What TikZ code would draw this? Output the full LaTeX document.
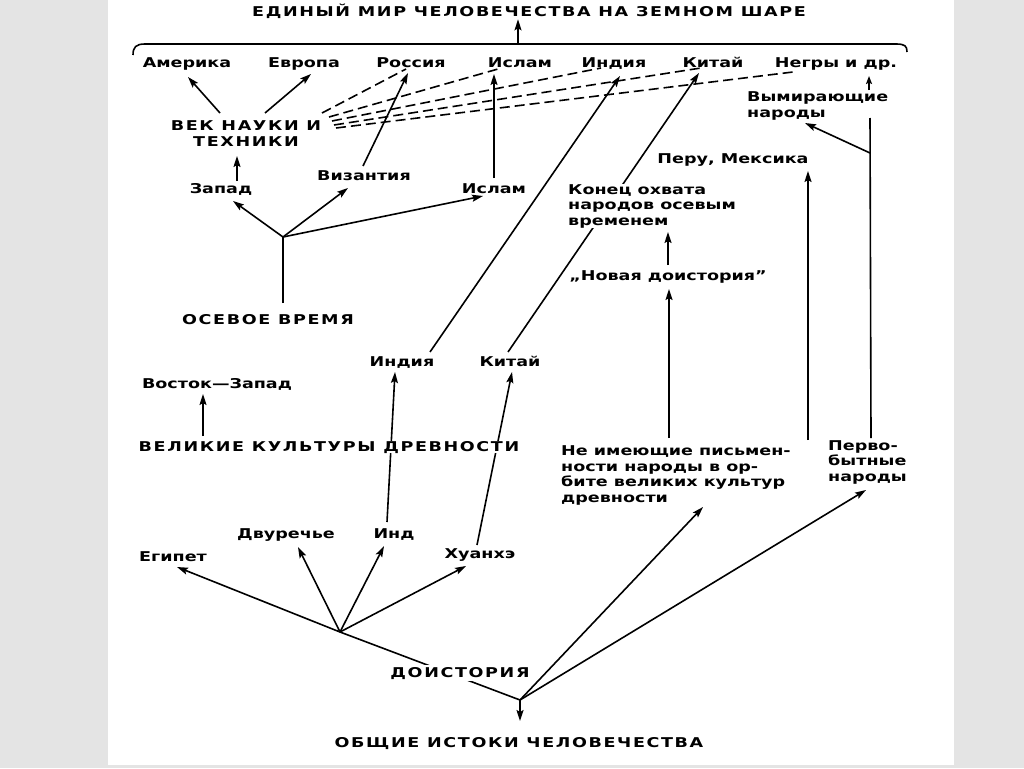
\documentclass[tikz,border=0pt]{standalone}
\usepackage{fontspec}
\setmainfont{DejaVu Sans}[FakeStretch=1.3]
\newfontfamily\capsfont{DejaVu Sans}[FakeStretch=1.3,LetterSpace=12]
\usetikzlibrary{arrows.meta,calc}
\definecolor{bg}{RGB}{228,228,228}
\begin{document}
\begin{tikzpicture}[x=1pt,y=-1pt,
  lbl/.style={font=\bfseries\fontsize{13.5}{15.5}\selectfont, inner sep=0pt, anchor=base},
  caplbl/.style={font=\capsfont\bfseries\fontsize{13.5}{15.5}\selectfont, inner sep=0pt, anchor=base},
  ml/.style={lbl, align=left, anchor=base west},
  ln/.style={line width=1.6pt},
  arr/.style={ln, -{Stealth[length=11pt,width=7pt,inset=2pt]}},
  dsh/.style={ln, dash pattern=on 10pt off 5pt},
]
\useasboundingbox (0,0) rectangle (1024,768);
\fill[bg] (0,0) rectangle (1024,768);
\fill[white] (108,0) rectangle (954,765);

% coordinates
\coordinate (bt) at (518,44);
\coordinate (f1) at (283,237);
\coordinate (f2) at (340,632);
\coordinate (f3) at (520,700);
\coordinate (br) at (870,153);
\coordinate (vtop) at (870,118);

% nodes (multi-line nodes: base = baseline of the last line)
\node[caplbl] (title) at (529,17) {ЕДИНЫЙ МИР ЧЕЛОВЕЧЕСТВА НА ЗЕМНОМ ШАРЕ};
\node[lbl] (amer) at (187,67) {Америка};
\node[lbl] (evr) at (304,67) {Европа};
\node[lbl] (ros) at (411,67) {Россия};
\node[lbl] (islT) at (520,67) {Ислам};
\node[lbl] (indT) at (614,67) {Индия};
\node[lbl] (kitT) at (713,67) {Китай};
\node[lbl] (negr) at (836,67) {Негры и др.};
\node[caplbl, align=center] (vek) at (246,146) {ВЕК НАУКИ И\\ТЕХНИКИ};
\node[lbl] (zap) at (221,193) {Запад};
\node[lbl] (viz) at (364,180) {Византия};
\node[lbl] (islM) at (494,193) {Ислам};
\node[caplbl] (osev) at (268,324) {ОСЕВОЕ ВРЕМЯ};
\node[lbl] (indM) at (402,366) {Индия};
\node[lbl] (kitM) at (510,366) {Китай};
\node[lbl] (vost) at (217,388) {Восток—Запад};
\node[lbl] (dvur) at (286,538) {Двуречье};
\node[lbl] (ind) at (394,538) {Инд};
\node[lbl] (egip) at (173,561) {Египет};
\node[lbl] (huan) at (480,558) {Хуанхэ};
\node[caplbl] (obsh) at (519,747) {ОБЩИЕ ИСТОКИ ЧЕЛОВЕЧЕСТВА};
\node[lbl] (nova) at (668,280) {„Новая доистория”};
\node[lbl] (peru) at (733,163) {Перу, Мексика};
\node[ml] (vymir) at (747,117) {Вымирающие\\народы};
\node[ml] (neim) at (561,502) {Не имеющие письмен-\\ности народы в ор-\\бите великих культур\\древности};
\node[ml] (perv) at (828,481) {Перво-\\бытные\\народы};

% brace
\draw[ln] (133,55) .. controls (133,47) and (136,44) .. (145,44) -- (896,44) .. controls (905,44) and (907,46) .. (907,52);
\draw[arr] (bt) -- (bt |- title.south);

% upper part
\draw[arr] ($(vek.base)+(-26,-33)$) -- ($(amer.base)+(1,10)$);
\draw[arr] ($(vek.base)+(19,-33)$) -- ($(evr.base)+(7,7)$);
\draw[arr] ($(zap.base)+(16,-12)$) -- ($(vek.base)+(-9,10)$);
\draw[arr] ($(viz.base)+(-1,-14)$) -- ($(ros.base)+(-3,6)$);
\draw[arr] ($(islM.base)+(0,-15)$) -- ($(islT.base)+(-26,7)$);
\draw[ln] ($(osev.base)+(15,-21)$) -- (f1);
\draw[arr] (f1) -- ($(zap.base)+(12,8)$);
\draw[arr] (f1) -- ($(viz.base)+(-16,8)$);
\draw[arr] (f1) -- ($(islM.base)+(-11,3)$);
\draw[arr] ($(indM.base)+(28,-14)$) -- ($(indT.base)+(6,9)$);
\draw[arr] ($(kitM.base)+(-2,-14)$) -- ($(kitT.base)+(-14,6)$);

% dashed
\draw[dsh] ($(vek.base)+(76,-33)$) -- ($(ros.base)+(-5,2)$);
\draw[dsh] ($(vek.base)+(83,-29)$) -- ($(islT.base)+(-22,2)$);
\draw[dsh] ($(vek.base)+(86,-25)$) -- ($(indT.base)+(-13,1)$);
\draw[dsh] ($(vek.base)+(88,-21)$) -- ($(kitT.base)+(-12,1)$);
\draw[dsh] ($(vek.base)+(90,-18)$) -- ($(negr.base)+(-43,5)$);

% ancient cultures
\draw[arr] ($(ind.base)+(-7,-16)$) -- ($(indM.base)+(-7,6)$);
\draw[arr] ($(huan.base)+(-3,-13)$) -- ($(kitM.base)+(2,6)$);
\draw[arr] (f2) -- ($(egip.base)+(4,6)$);
\draw[arr] (f2) -- ($(dvur.base)+(12,9)$);
\draw[arr] (f2) -- ($(ind.base)+(-10,8)$);
\draw[arr] (f2) -- ($(huan.base)+(-14,8)$);
\draw[ln] (f2) -- (f3);
\draw[arr] (f3) -- ($(obsh.base)+(1,-26)$);
\draw[arr] (f3) -- ($(neim.base west)+(142,5)$);
\draw[arr] (f3) -- ($(perv.base west)+(38,9)$);

% right part
\draw[arr] ($(neim.base west)+(108,-64)$) -- ($(nova.base)+(1,9)$);
\draw[arr] ($(perv.base west)+(-20,-41)$) -- ($(peru.base)+(75,8)$);
\draw[ln] ($(perv.base west)+(43,-43)$) -- (vtop);
\draw[arr] (br) -- ($(vymir.base west)+(58,6)$);
\draw[ln, -{Stealth[length=8pt,width=6pt,inset=1.5pt]}] ($(vymir.base west)+(122,-27)$) -- ($(negr.base)+(33,9)$);

% nodes that sit over lines
\node[caplbl, fill=white] (vel) at (329,451) {ВЕЛИКИЕ КУЛЬТУРЫ ДРЕВНОСТИ};
\node[caplbl, fill=white, inner sep=1.5pt] (doist) at (460,677) {ДОИСТОРИЯ};
\node[ml, fill=white] (konec) at (568,225) {Конец охвата\\народов осевым\\временем};
\draw[arr] ($(vel.base)+(-126,-15)$) -- ($(vost.base)+(-14,6)$);
\draw[arr] ($(nova.base)+(0,-15)$) -- ($(konec.base west)+(100,7)$);
\end{tikzpicture}
\end{document}
